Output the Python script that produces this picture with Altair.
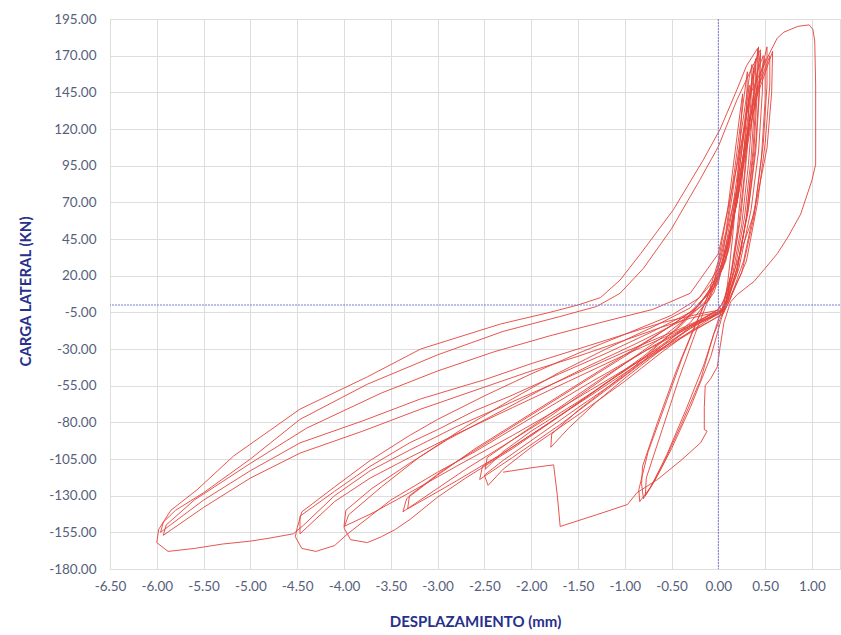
import altair as alt
import pandas as pd

# ---- axis ticks ----
x_ticks = [-6.5, -6.0, -5.5, -5.0, -4.5, -4.0, -3.5, -3.0, -2.5, -2.0, -1.5, -1.0, -0.5, 0.0, 0.5, 1.0]
y_ticks = [-180, -155, -130, -105, -80, -55, -30, -5, 20, 45, 70, 95, 120, 145, 170, 195]

# ---- hysteresis path (displacement mm, load kN), in travel order ----
cycle_01 = [(0.0, 0), (0.05, -5), (-0.05, -20), (-0.19, -51), (-0.4, -82), (-0.6, -110), (-0.76, -128), (-0.80, -132),
            (-0.82, -122), (-0.81, -110), (-0.65, -80), (-0.45, -45), (-0.27, -17), (-0.12, 5), (0.0, 30), (0.1, 65),
            (0.18, 105), (0.24, 135), (0.26, 144), (0.24, 120), (0.2, 80), (0.15, 45), (0.1, 15), (0.06, 0)]
cycle_02 = [(0.0, -10), (-0.15, -40), (-0.35, -72), (-0.55, -102), (-0.72, -124), (-0.84, -134),
            (-0.85, -126), (-0.75, -100), (-0.55, -65), (-0.38, -35), (-0.22, -10), (-0.05, 15), (0.08, 50), (0.18, 95),
            (0.26, 135), (0.31, 159), (0.3, 130), (0.26, 90), (0.2, 50), (0.12, 15), (0.08, 0)]
cycle_03 = [(0.03, -10), (-0.08, -35), (-0.3, -70), (-0.5, -98), (-0.68, -120), (-0.78, -130),
            (-0.77, -118), (-0.6, -85), (-0.42, -50), (-0.25, -20), (-0.1, 5), (0.05, 35), (0.15, 75), (0.25, 120),
            (0.33, 155), (0.36, 164), (0.35, 140), (0.3, 100), (0.24, 60), (0.15, 25), (0.08, 5)]
cycle_04 = [(0.0, -3), (-0.3, -15), (-0.6, -30), (-1.0, -50), (-1.3, -66), (-1.6, -84), (-1.79, -97),
            (-1.78, -88), (-1.5, -72), (-1.2, -57), (-0.9, -42), (-0.6, -25), (-0.35, -10), (-0.1, 8), (0.05, 30),
            (0.15, 65), (0.25, 110), (0.33, 150), (0.32, 125), (0.28, 90), (0.22, 55), (0.14, 22), (0.06, 3)]
cycle_05 = [(0.0, -3), (-0.3, -14), (-0.6, -27), (-1.0, -45), (-1.5, -66), (-2.0, -86), (-2.3, -100), (-2.49, -112),
            (-2.47, -104), (-2.2, -92), (-1.8, -76), (-1.4, -58), (-1.0, -40), (-0.6, -22), (-0.3, -7), (-0.05, 12),
            (0.1, 40), (0.2, 80), (0.3, 130), (0.40, 168), (0.39, 140), (0.35, 100), (0.28, 60), (0.18, 25), (0.08, 3)]
cycle_06 = [(0.02, -5), (-0.3, -18), (-0.6, -32), (-1.0, -52), (-1.5, -75), (-2.0, -97), (-2.3, -112), (-2.46, -123),
            (-2.5, -116), (-2.3, -106), (-1.9, -88), (-1.5, -70), (-1.0, -48), (-0.6, -28), (-0.3, -12), (-0.05, 8),
            (0.12, 40), (0.25, 95), (0.35, 145), (0.43, 176), (0.42, 150), (0.38, 105), (0.3, 60), (0.2, 25), (0.1, 3)]
cycle_07 = [(0.02, -4), (-0.3, -16), (-0.7, -34), (-1.2, -58), (-1.7, -82), (-2.2, -104), (-2.55, -119),
            (-2.52, -110), (-2.25, -99), (-1.8, -80), (-1.3, -58), (-0.8, -35), (-0.4, -14), (-0.1, 5), (0.08, 30),
            (0.2, 80), (0.3, 130), (0.38, 162), (0.37, 135), (0.32, 95), (0.25, 55), (0.15, 20), (0.08, 2)]
cycle_08 = [(0.03, -5), (-0.3, -14), (-0.7, -28), (-1.2, -48), (-1.7, -70), (-2.2, -92), (-2.7, -112), (-3.0, -125),
            (-3.37, -141), (-3.33, -132), (-3.0, -116), (-2.6, -98), (-2.1, -78), (-1.6, -58), (-1.1, -38), (-0.6, -18),
            (-0.25, -3), (0.0, 18), (0.15, 55), (0.3, 115), (0.42, 160), (0.48, 170), (0.47, 145), (0.43, 105),
            (0.35, 65), (0.22, 25), (0.1, 3)]
cycle_09 = [(0.05, -4), (-0.3, -16), (-0.7, -32), (-1.2, -53), (-1.7, -76), (-2.2, -98), (-2.7, -118), (-3.0, -131),
            (-3.29, -146), (-3.45, -153), (-3.6, -158), (-3.75, -162), (-3.93, -160), (-4.0, -152),
            (-3.95, -143), (-3.6, -124), (-3.2, -104), (-2.7, -83), (-2.2, -64), (-1.7, -46), (-1.2, -30), (-0.7, -15),
            (-0.3, -2), (0.0, 20), (0.2, 70), (0.35, 130), (0.52, 176), (0.52, 150), (0.48, 110), (0.4, 70),
            (0.27, 30), (0.12, 3)]
cycle_10 = [(0.05, -6), (-0.3, -19), (-0.8, -38), (-1.3, -59), (-1.8, -80), (-2.3, -101), (-2.8, -120), (-3.1, -131),
            (-3.32, -139), (-3.3, -130), (-2.95, -113), (-2.5, -95), (-2.0, -75), (-1.5, -55), (-1.0, -35), (-0.5, -14),
            (-0.2, 0), (0.05, 25), (0.2, 70), (0.35, 130), (0.45, 172), (0.44, 145), (0.4, 105), (0.32, 65),
            (0.2, 25), (0.1, 3)]
cycle_11 = [(0.05, -5), (-0.3, -15), (-0.8, -32), (-1.4, -54), (-2.0, -77), (-2.6, -100), (-3.0, -114), (-3.5, -133),
            (-3.96, -156), (-4.1, -164), (-4.3, -168), (-4.45, -166), (-4.52, -158), (-4.5, -152),
            (-4.45, -141), (-4.1, -124), (-3.72, -106), (-3.3, -89), (-3.0, -78), (-2.5, -62), (-2.0, -47), (-1.5, -33),
            (-1.0, -20), (-0.5, -7), (-0.2, 5), (0.0, 25), (0.2, 80), (0.38, 140), (0.55, 170), (0.55, 150),
            (0.5, 110), (0.42, 70), (0.3, 30), (0.12, 3)]
cycle_12 = [(0.05, -6), (-0.4, -22), (-1.0, -44), (-1.6, -67), (-2.2, -89), (-2.8, -110), (-3.3, -128), (-3.7, -142),
            (-4.0, -151), (-3.98, -140), (-3.7, -125), (-3.3, -108), (-2.9, -92), (-2.4, -75), (-1.9, -58), (-1.4, -42),
            (-0.9, -27), (-0.4, -11), (-0.1, 3), (0.1, 35), (0.3, 110), (0.5, 168), (0.5, 140), (0.46, 100),
            (0.38, 60), (0.25, 22), (0.1, 2)]
cycle_13 = [(0.05, -4), (-0.4, -17), (-1.0, -34), (-1.6, -52), (-2.2, -70), (-2.8, -88), (-3.3, -104), (-3.72, -118),
            (-4.1, -134), (-4.47, -156), (-4.47, -144), (-4.1, -127), (-3.72, -110), (-3.3, -94), (-3.0, -85),
            (-2.6, -72), (-2.22, -62), (-1.7, -47), (-1.2, -33), (-0.7, -18), (-0.3, -5), (0.0, 15), (0.2, 70),
            (0.4, 140), (0.58, 173), (0.57, 145), (0.52, 107), (0.38, 62), (0.13, 16), (0.05, 2)]
cycle_14 = [(0.05, -3), (-0.4, -16), (-1.0, -32), (-1.6, -49), (-2.2, -66), (-2.8, -83), (-3.3, -99), (-3.72, -113),
            (-4.1, -130), (-4.43, -150), (-4.54, -156), (-4.8, -159), (-5.0, -161), (-5.3, -163), (-5.6, -166),
            (-5.88, -168), (-6.0, -162), (-5.98, -153), (-5.85, -140), (-5.57, -126), (-5.18, -103), (-4.47, -71),
            (-3.75, -49), (-3.18, -30), (-2.33, -13), (-1.8, -5), (-1.5, 0), (-1.26, 5), (-1.05, 17), (-0.83, 35),
            (-0.48, 65), (-0.16, 99), (0.02, 120), (0.2, 147), (0.3, 163), (0.42, 175), (0.41, 150), (0.37, 105),
            (0.3, 60), (0.2, 22), (0.08, 2)]
cycle_15 = [(0.05, -3), (-0.2, -6), (-0.6, -12), (-1.0, -20), (-1.5, -30), (-2.0, -40), (-2.5, -51), (-3.18, -64),
            (-3.8, -79), (-4.47, -94), (-5.0, -113), (-5.5, -133), (-5.96, -155), (-5.93, -148), (-5.8, -140),
            (-5.5, -128), (-5.0, -105), (-4.47, -78), (-3.75, -54), (-3.0, -34), (-2.3, -18), (-1.7, -8), (-1.3, -1),
            (-1.05, 8), (-0.8, 25), (-0.5, 52), (-0.2, 85), (0.0, 108), (0.2, 140), (0.45, 174), (0.44, 150),
            (0.4, 110), (0.32, 65), (0.2, 25), (0.08, 2)]
cycle_16 = [(0.05, -4), (-0.3, -9), (-0.6, -15), (-1.0, -24), (-1.5, -35), (-2.0, -45), (-2.5, -56), (-3.18, -71),
            (-3.8, -86), (-4.47, -101), (-5.0, -118), (-5.5, -138), (-5.93, -157), (-5.9, -150), (-5.6, -133),
            (-5.0, -108), (-4.4, -84), (-3.6, -60), (-3.0, -45), (-2.4, -32), (-1.8, -21), (-1.2, -11), (-0.7, -3),
            (-0.3, 8), (0.0, 35), (0.2, 95), (0.35, 145), (0.55, 172)]
cycle_17 = [(0.63, 182), (0.7, 186), (0.85, 190), (0.97, 191), (1.01, 188), (1.03, 180), (1.04, 150), (1.04, 120),
            (1.04, 96), (1.0, 85), (0.88, 62), (0.75, 47), (0.63, 35), (0.5, 25), (0.38, 16), (0.2, 7), (0.13, 2),
            (0.06, -12), (0.02, -28), (-0.01, -42), (-0.08, -50), (-0.14, -55), (-0.15, -70), (-0.15, -85),
            (-0.12, -86), (-0.19, -94), (-0.4, -106), (-0.65, -119), (-0.87, -128), (-0.97, -136), (-1.3, -143),
            (-1.69, -151), (-1.72, -130), (-1.76, -109), (-2.0, -111), (-2.3, -114)]

cycles = [cycle_01, cycle_02, cycle_03, cycle_04, cycle_05, cycle_06, cycle_07, cycle_08, cycle_09,
          cycle_10, cycle_11, cycle_12, cycle_13, cycle_14, cycle_15, cycle_16, cycle_17]

rows = []
for c in cycles:
    for (dx, fy) in c:
        rows.append({"i": len(rows), "d": dx, "f": fy})
df = pd.DataFrame(rows)
zero_df = pd.DataFrame({"d": [0.0], "f": [0.0]})

x_scale = alt.Scale(domain=[-6.5, 1.3], nice=False, zero=False)
y_scale = alt.Scale(domain=[-180, 195], nice=False, zero=False)

label_color = "#56607c"
title_color = "#27308c"
font = "Lato"
label_expr = "(datum.value < 0 ? '-' : '') + format(abs(datum.value), '.2f')"

x_axis = alt.Axis(values=x_ticks, labelExpr=label_expr, title="DESPLAZAMIENTO (mm)", grid=True,
                  gridColor="#dddddd", domain=False, ticks=False, labelPadding=10, labelFontSize=13.5,
                  labelColor=label_color, labelFont=font, labelFlush=False, titleFont=font, titleFontSize=15,
                  titleFontWeight="bold", titleColor=title_color, titleX=365, titleY=52, titleBaseline="middle",
                  titleAlign="center")
y_axis = alt.Axis(values=y_ticks, labelExpr=label_expr, title="CARGA LATERAL (KN)", grid=True,
                  gridColor="#dddddd", domain=False, ticks=False, labelPadding=14, labelFontSize=13.5,
                  labelColor=label_color, labelFont=font, labelFlush=False, titleFont=font, titleFontSize=15,
                  titleFontWeight="bold", titleColor=title_color, titleX=-85, titleY=272, titleBaseline="middle",
                  titleAlign="center", titleAngle=270)

curve = alt.Chart(df).mark_line(color="#e4423b", strokeWidth=1, opacity=0.9, clip=True).encode(
    x=alt.X("d:Q", scale=x_scale, axis=x_axis),
    y=alt.Y("f:Q", scale=y_scale, axis=y_axis),
    order=alt.Order("i:Q"),
)

vline = alt.Chart(zero_df).mark_rule(color="#7b7fd6", strokeWidth=1, strokeDash=[2, 1]).encode(
    x=alt.X("d:Q", scale=x_scale, axis=x_axis))
hline = alt.Chart(zero_df).mark_rule(color="#7b7fd6", strokeWidth=1, strokeDash=[2, 1]).encode(
    y=alt.Y("f:Q", scale=y_scale, axis=y_axis))

chart = alt.layer(curve, vline, hline).properties(
    width=730, height=550,
    autosize=alt.AutoSizeParams(type="none"),
    padding={"left": 110, "top": 19, "right": 1, "bottom": 66},
).configure_view(stroke=None).configure(background="white")

chart.save("out.html", embed_options={"renderer": "svg", "actions": False})
